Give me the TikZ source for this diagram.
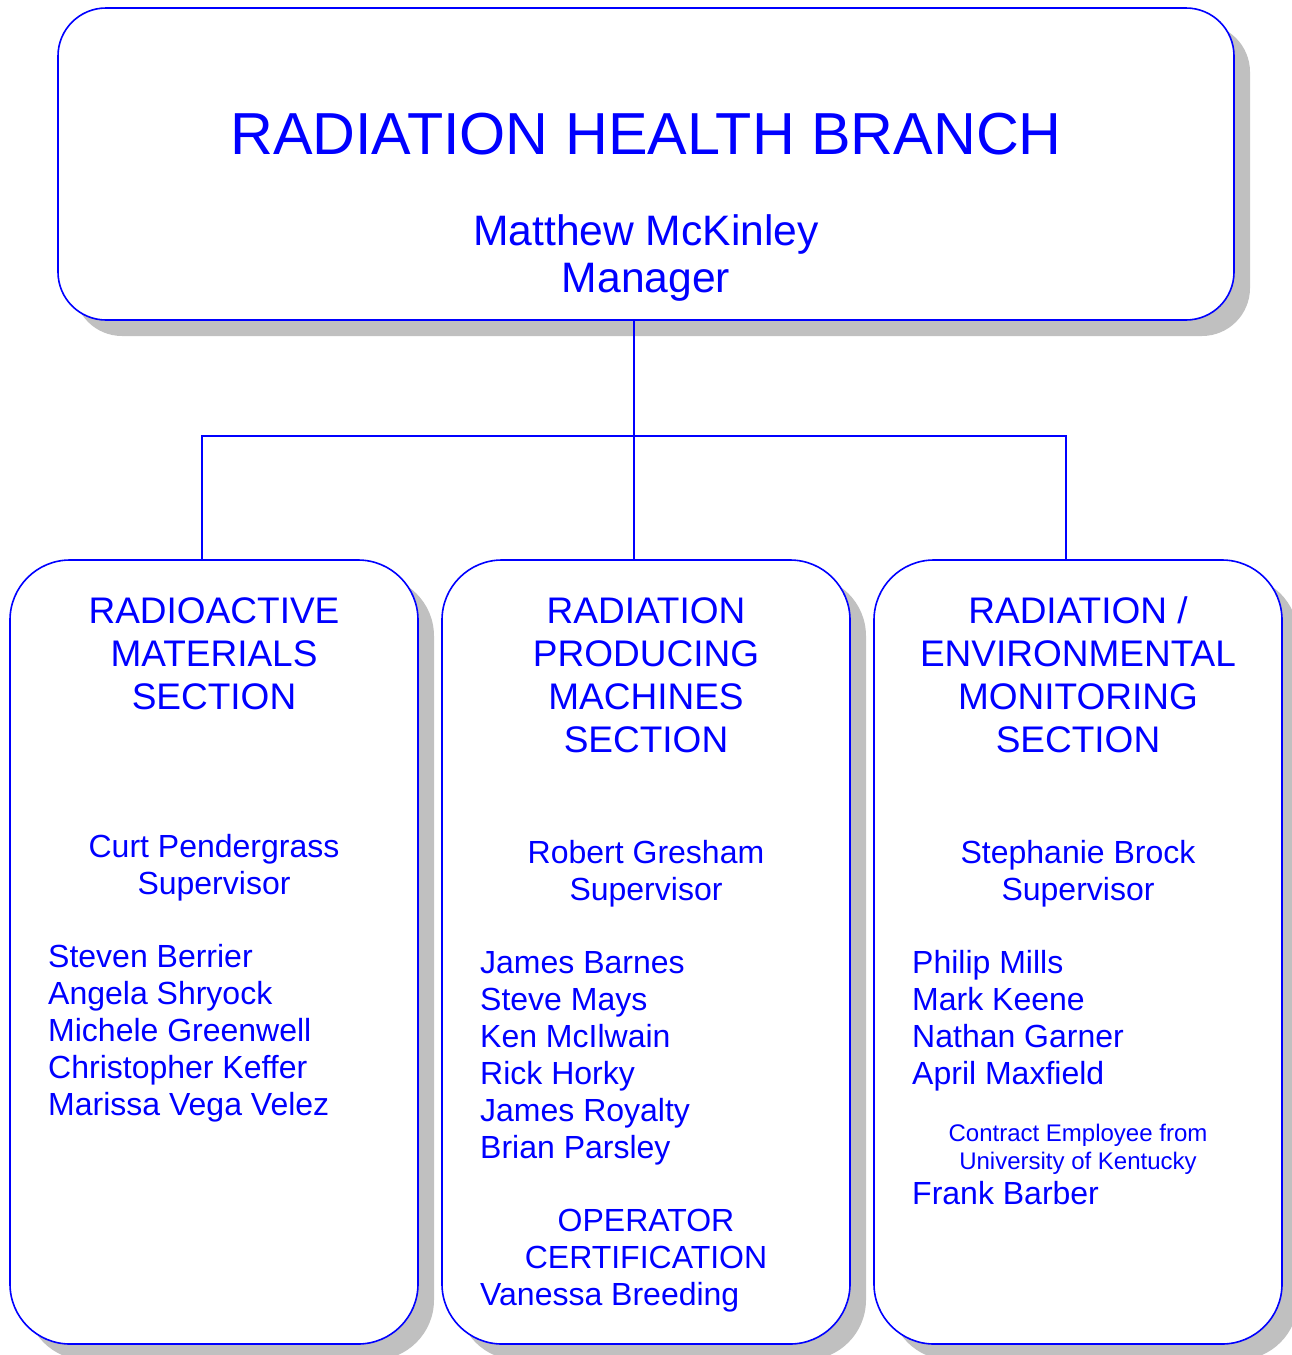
\documentclass[tikz,border=0pt]{standalone}
\usepackage{fontspec}
\setmainfont{Liberation Sans}
\usepackage{xcolor}
\definecolor{rhbBlue}{HTML}{0000FF}
\definecolor{rhbShadow}{HTML}{C0C0C0}
\usetikzlibrary{shadows}

\begin{document}
\begin{tikzpicture}[
  x=1pt, y=-1pt,
  frame/.style = {rectangle, draw=rhbBlue, line width=1.6pt, fill=white,
                  inner sep=0pt,
                  drop shadow={shadow xshift=16pt, shadow yshift=-16pt,
                               fill=rhbShadow, opacity=1}},
  branch/.style = {frame, rounded corners=48pt,
                   minimum width=1176pt, minimum height=312pt},
  unit/.style = {frame, rounded corners=60pt,
                 minimum width=408pt, minimum height=784pt},
  txt/.style = {text=rhbBlue, inner sep=0pt, anchor=base},
  head/.style = {txt, font=\fontsize{59.3}{70}\selectfont},
  chief/.style = {txt, align=center, font=\fontsize{42.6}{47}\selectfont},
  sectitle/.style = {txt, align=center, font=\fontsize{37}{43}\selectfont},
  boss/.style = {txt, align=center, font=\fontsize{32}{37}\selectfont},
  staff/.style = {txt, align=left, anchor=base west,
                  font=\fontsize{32}{37}\selectfont},
  note/.style = {txt, align=center, font=\fontsize{24}{28}\selectfont},
  link/.style = {draw=rhbBlue, line width=1.4pt},
]
\useasboundingbox (0,0) rectangle (1292,1355);

% Branch (text nodes sit on the baseline of their last line)
\node[branch] (top) at (646,164) {};
\node[head]  (title)   at (646,154) {RADIATION HEALTH BRANCH};
\node[chief] (manager) at (646,292) {Matthew McKinley\\Manager};

% Sections
\node[unit] (rams) at (214,952)  {};
\node[unit] (rpms) at (646,952)  {};
\node[unit] (rems) at (1078,952) {};

% Connectors
\coordinate (hub) at (634,436);
\draw[link] (top.south -| hub) -- (hub);
\draw[link] ([xshift=-12pt]rams.north) |- (hub) -| ([xshift=-12pt]rems.north);
\draw[link] (hub) -- ([xshift=-12pt]rpms.north);

% Radioactive materials
\node[sectitle] (ramsName) at (214,709) {RADIOACTIVE\\MATERIALS\\SECTION};
\node[boss] (ramsBoss) at (214,894) {Curt Pendergrass\\Supervisor};
\node[staff] (ramsStaff) at (48,1115)
  {Steven Berrier\\Angela Shryock\\Michele Greenwell\\Christopher Keffer\\Marissa Vega Velez};

% Radiation producing machines
\node[sectitle] (rpmsName) at (646,752) {RADIATION\\PRODUCING\\MACHINES\\SECTION};
\node[boss] (rpmsBoss) at (646,900) {Robert Gresham\\Supervisor};
\node[staff] (rpmsStaff) at (480,1158)
  {James Barnes\\Steve Mays\\Ken McIlwain\\Rick Horky\\James Royalty\\Brian Parsley};
\node[boss] (opcert) at (646,1268) {OPERATOR\\CERTIFICATION};
\node[staff] (opcertStaff) at (480,1305) {Vanessa Breeding};

% Radiation / environmental monitoring
\node[sectitle] (remsName) at (1078,752) {RADIATION /\\ENVIRONMENTAL\\MONITORING\\SECTION};
\node[boss] (remsBoss) at (1078,900) {Stephanie Brock\\Supervisor};
\node[staff] (remsStaff) at (912,1084)
  {Philip Mills\\Mark Keene\\Nathan Garner\\April Maxfield};
\node[note] (contract) at (1078,1169) {Contract Employee from\\University of Kentucky};
\node[staff] (contractStaff) at (912,1204) {Frank Barber};

\end{tikzpicture}
\end{document}
